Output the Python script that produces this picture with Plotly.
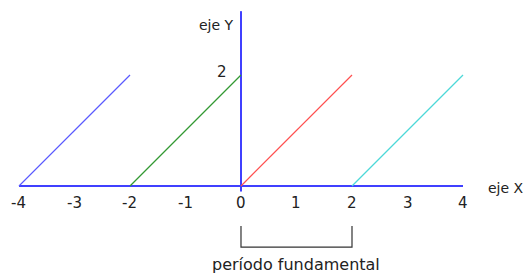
import plotly.graph_objects as go

# Data
segments_x = [[-4, -2], [-2, 0], [0, 2], [2, 4]]
segments_y = [[0, 2], [0, 2], [0, 2], [0, 2]]
segment_colors = ["#5a5aff", "#339933", "#ff5050", "#4dd8d8"]
x_ticks = [-4, -3, -2, -1, 0, 1, 2, 3, 4]
x_tick_labels = ["-4", "-3", "-2", "-1", "0", "1", "2", "3", "4"]
y_tick = 2
period = [0, 2]

fig = go.Figure()

axis_color = "#4040ff"
# x axis line
fig.add_trace(go.Scatter(x=[-4, 4], y=[0, 0], mode="lines",
                         line=dict(color=axis_color, width=2), hoverinfo="skip"))
# y axis line
fig.add_trace(go.Scatter(x=[0, 0], y=[-0.1, 3.15], mode="lines",
                         line=dict(color=axis_color, width=2), hoverinfo="skip"))

for xs, ys, c in zip(segments_x, segments_y, segment_colors):
    fig.add_trace(go.Scatter(x=xs, y=ys, mode="lines",
                             line=dict(color=c, width=1.2), hoverinfo="skip"))

# bracket for fundamental period
fig.add_trace(go.Scatter(x=[period[0], period[0], period[1], period[1]],
                         y=[-0.72, -1.1, -1.1, -0.72], mode="lines",
                         line=dict(color="#333333", width=1.2), hoverinfo="skip"))

font = dict(family="DejaVu Sans", size=15, color="#222222")
annotations = []
for xv, lab in zip(x_ticks, x_tick_labels):
    annotations.append(dict(x=xv, y=-0.3, text=lab, showarrow=False,
                            xanchor="center", yanchor="middle", font=font))
annotations.append(dict(x=-0.21, y=y_tick + 0.05, text=str(y_tick), showarrow=False,
                        xanchor="right", yanchor="middle", font=font))
annotations.append(dict(x=-0.09, y=2.9, text="eje Y", showarrow=False,
                        xanchor="right", yanchor="middle",
                        font=dict(family="DejaVu Sans", size=14, color="#222222")))
annotations.append(dict(x=4.42, y=-0.03, text="eje X", showarrow=False,
                        xanchor="left", yanchor="middle",
                        font=dict(family="DejaVu Sans", size=14, color="#222222")))
annotations.append(dict(x=(period[0] + period[1]) / 2, y=-1.41, text="período fundamental",
                        showarrow=False, xanchor="center", yanchor="middle",
                        font=dict(family="DejaVu Sans", size=16, color="#222222")))

fig.update_layout(
    width=523, height=276,
    margin=dict(l=0, r=0, t=0, b=0),
    paper_bgcolor="white", plot_bgcolor="white",
    showlegend=False,
    annotations=annotations,
    xaxis=dict(range=[-4.342, 5.081], visible=False, fixedrange=True),
    yaxis=dict(range=[-1.622, 3.351], visible=False, fixedrange=True),
)

fig.write_html(
    "out.html",
    config={"displayModeBar": False},
    post_script="document.body.style.margin='0';document.body.style.overflow='hidden';",
)
